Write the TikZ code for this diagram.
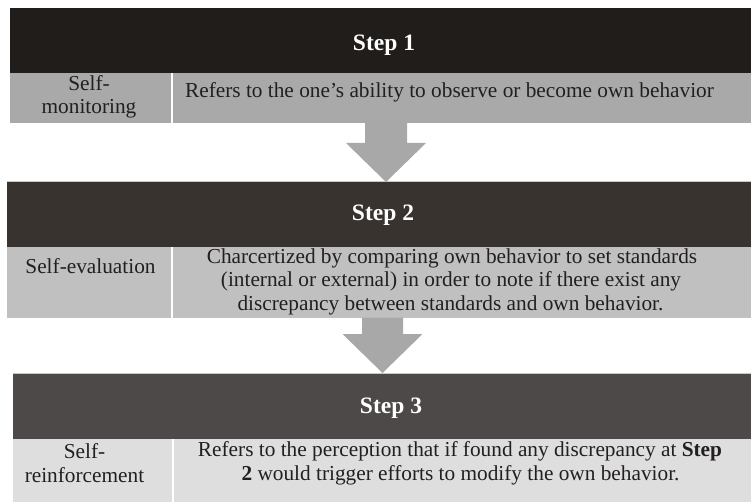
\documentclass[tikz,border=0pt]{standalone}
\usepackage{fontspec}
\setmainfont{Liberation Serif}
\usetikzlibrary{calc}
\definecolor{hdA}{HTML}{211D1A}
\definecolor{hdB}{HTML}{38332F}
\definecolor{hdC}{HTML}{4D4949}
\definecolor{rwA}{HTML}{A9A9A9}
\definecolor{rwB}{HTML}{C0C0C0}
\definecolor{rwC}{HTML}{DEDEDE}
\definecolor{arrc}{HTML}{A8A8A8}
\definecolor{txtc}{HTML}{231F20}
\definecolor{edgec}{HTML}{C8C8C8}
\begin{document}
\begin{tikzpicture}[x=1pt,y=-1pt,
  box/.style={rectangle, inner sep=0pt, outer sep=0pt, anchor=north west, draw=none},
  ttl/.style={anchor=base, inner sep=0pt, text=white, font=\fontsize{23.5}{27}\selectfont\bfseries},
  lbl/.style={anchor=base, inner sep=0pt, text=txtc, font=\fontsize{21.3}{24}\selectfont},
  divider/.style={white, line width=1.5pt},
  flow/.style={fill=arrc},
  rim/.style={edgec, line width=1pt}
]
\useasboundingbox (0,0) rectangle (751,502);

% ---------- Step 1 ----------
\node[box, fill=hdA, minimum width=741pt, minimum height=65pt] (h1) at (10,8) {};
\node[box, fill=rwA, minimum width=741pt, minimum height=50pt] (r1) at (10,73) {};
\draw[divider] ($(r1.north west)+(162,0)$) -- ($(r1.south west)+(162,0)$);
\node[ttl] (t1) at (384,51) {Step 1};
\node[lbl] (c1a) at (89,90.7) {Self-};
\node[lbl] (c1b) at (89,114) {monitoring};
\node[lbl] (d1) at (449.5,97.7) {Refers to the one’s ability to observe or become own behavior};

% ---------- Step 2 ----------
\node[box, fill=hdB, minimum width=744pt, minimum height=65.5pt] (h2) at (7,182) {};
\node[box, fill=rwB, minimum width=744pt, minimum height=70pt] (r2) at (7,247.5) {};
\draw[rim] (h2.north west) -- (h2.north east);
\draw[divider] ($(r2.north west)+(165,0)$) -- ($(r2.south west)+(165,0)$);
\node[ttl] (t2) at (383,221) {Step 2};
\node[lbl] (c2) at (90.5,273) {Self-evaluation};
\node[lbl] (d2a) at (452,263) {Charcertized by comparing own behavior to set standards};
\node[lbl] (d2b) at (451,286.5) {(internal or external) in order to note if there exist any};
\node[lbl] (d2c) at (450.5,310) {discrepancy between standards and own behavior.};

% ---------- Step 3 ----------
\node[box, fill=hdC, minimum width=738pt, minimum height=66pt] (h3) at (13,373) {};
\node[box, fill=rwC, minimum width=738pt, minimum height=63pt] (r3) at (13,439) {};
\draw[rim] (h3.north west) -- (h3.north east);
\draw[divider] ($(r3.north west)+(160,0)$) -- ($(r3.south west)+(160,0)$);
\node[ttl] (t3) at (391,413.5) {Step 3};
\node[lbl] (c3a) at (84.5,458.7) {Self-};
\node[lbl] (c3b) at (84.5,482) {reinforcement};
\node[lbl] (d3a) at (460,456.7) {Refers to the perception that if found any discrepancy at \textbf{Step}};
\node[lbl] (d3b) at (460.5,480) {\textbf{2} would trigger efforts to modify the own behavior.};

% ---------- Arrows ----------
\coordinate (a1) at (r1.south -| 386,0);
\fill[flow] ($(a1)+(-21,0)$) -- ($(a1)+(21,0)$) -- ($(a1)+(21,20)$) -- ($(a1)+(40,20)$)
  -- (a1 |- h2.north) -- ($(a1)+(-40,20)$) -- ($(a1)+(-21,20)$) -- cycle;
\coordinate (a2) at (r2.south -| 382.5,0);
\fill[flow] ($(a2)+(-20.5,0)$) -- ($(a2)+(20.5,0)$) -- ($(a2)+(20.5,16.5)$) -- ($(a2)+(40,16.5)$)
  -- (a2 |- h3.north) -- ($(a2)+(-40,16.5)$) -- ($(a2)+(-20.5,16.5)$) -- cycle;
\end{tikzpicture}
\end{document}
